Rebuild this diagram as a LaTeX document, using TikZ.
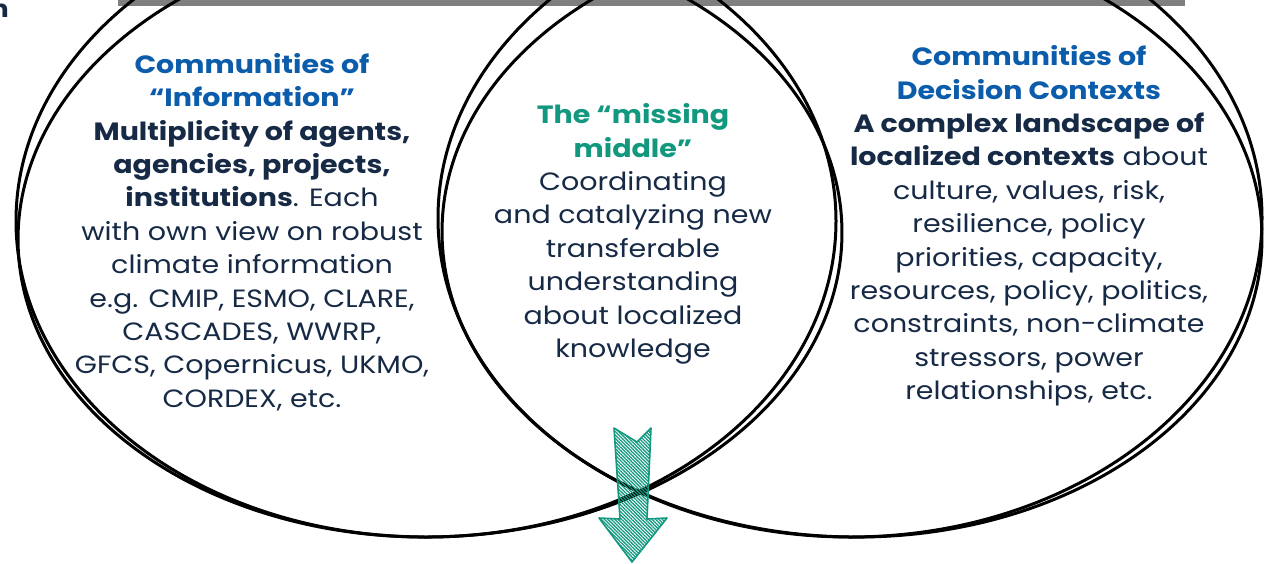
\documentclass[tikz,border=0pt]{standalone}
\usepackage{fontspec}
\setmainfont{Poppins}[FakeStretch=1.14]
\usetikzlibrary{patterns.meta}
\definecolor{hdrblue}{HTML}{0B5CAB}
\definecolor{tealg}{HTML}{12987F}
\definecolor{navy}{HTML}{172A45}
\definecolor{barg}{HTML}{7F7F7F}
\tikzset{
  ell/.style={line width=3pt, black},
  txt/.style={align=center, text=navy, inner sep=0pt, font=\fontsize{25}{33.4}\selectfont},
  arrowsty/.style={draw=tealg, line width=1.6pt, line join=round,
     pattern={Lines[angle=-45,distance=2.4pt,line width=1.3pt]}, pattern color=tealg}
}
\begin{document}
\begin{tikzpicture}[x=1pt,y=-1pt]
\useasboundingbox (0,0) rectangle (1269,563);
% top bar and cropped letter
\fill[barg] (118,-2) rectangle (1185,6);
\node[anchor=base east, inner sep=0pt, text=navy, font=\fontsize{24}{28}\selectfont\bfseries] (ncut) at (9,17) {n};
% left ellipses
\draw[ell] (426,221) ellipse [x radius=410pt, y radius=316pt];
\draw[ell] (430,236) ellipse [x radius=412pt, y radius=301pt, rotate=1];
% right ellipses
\draw[ell] (850,218) ellipse [x radius=412pt, y radius=319pt];
\draw[ell] (852,235) ellipse [x radius=410pt, y radius=302pt, rotate=-1];
% arrow
\draw[arrowsty] (614,428) -- (637,442) -- (651,428) -- (647,519) -- (667,518) -- (632,562) -- (599,518) -- (620,519) -- cycle;
% texts
\node[txt] (left) at (252,232) {\textcolor{hdrblue}{\bfseries Communities of}\\ \textcolor{hdrblue}{\bfseries “Information”}\\ \textbf{Multiplicity of agents,}\\ \textbf{agencies, projects,}\\ \textbf{institutions}. Each\\ with own view on robust\\ climate information\\ e.g. CMIP, ESMO, CLARE,\\ CASCADES, WWRP,\\ GFCS, Copernicus, UKMO,\\ CORDEX, etc.};
\node[txt] (mid) at (633,234) {\textcolor{tealg}{\bfseries The “missing}\\ \textcolor{tealg}{\bfseries middle”}\\ Coordinating\\ and catalyzing new\\ transferable\\ understanding\\ about localized\\ knowledge};
\node[txt] (right) at (1029,226) {\textcolor{hdrblue}{\bfseries Communities of}\\ \textcolor{hdrblue}{\bfseries Decision Contexts}\\ \textbf{A complex landscape of}\\ \textbf{localized contexts} about\\ culture, values, risk,\\ resilience, policy\\ priorities, capacity,\\ resources, policy, politics,\\ constraints, non-climate\\ stressors, power\\ relationships, etc.};
\end{tikzpicture}
\end{document}
